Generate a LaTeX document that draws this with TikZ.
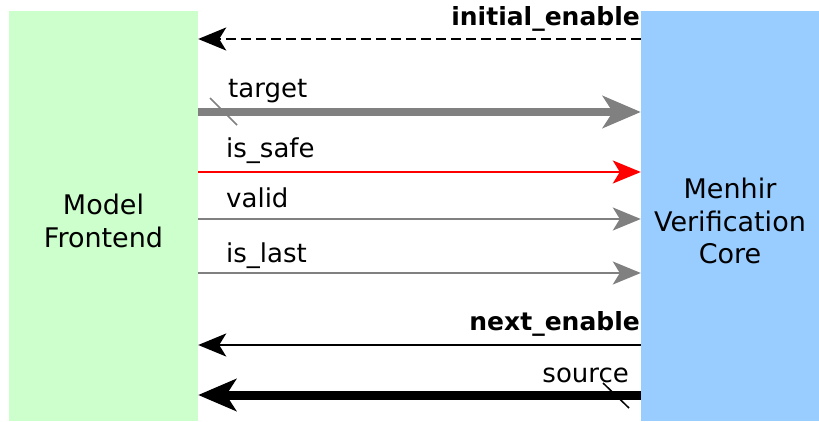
\documentclass[tikz,border=0pt]{standalone}
\usepackage{fontspec}
\setmainfont{DejaVu Sans}
\usetikzlibrary{arrows.meta}
\definecolor{frontgreen}{RGB}{204,255,204}
\definecolor{coreblue}{RGB}{153,204,255}
\definecolor{wiregray}{RGB}{128,128,128}

\begin{document}
\begin{tikzpicture}[x=1pt,y=1pt,
  >={Stealth[length=28pt,width=23pt,inset=7pt]},
  blk/.style={inner sep=0pt, minimum height=410pt},
  blktext/.style={inner sep=0pt, align=center, font=\fontsize{27}{32.5}\selectfont},
  sig/.style={inner sep=0pt, font=\fontsize{26}{30}\selectfont},
  wire/.style={line width=2pt},
  bus/.style={line width=8pt, -{Stealth[length=38pt,width=32pt,inset=10pt]}}]
\useasboundingbox (0,0) rectangle (819,421);

\node(MF)[blk, fill=frontgreen, minimum width=189pt] at (103.5,205) {};
\node(MVC)[blk, fill=coreblue, minimum width=178pt] at (730,205) {};
\node(MFtext)[blktext] at ([yshift=-5pt]MF.center) {Model\\Frontend};
\node(MVCtext)[blktext] at ([yshift=-5pt]MVC.center) {Menhir\\Verification\\Core};

% signal names
\node(IE)[sig, anchor=base east] at (640,395) {\fontsize{25}{30}\selectfont\textbf{initial\_enable}};
\node(TG)[sig, anchor=base west] at (228,323) {target};
\node(SF)[sig, anchor=base west] at (226,263) {is\_safe};
\node(VL)[sig, anchor=base west] at (226,214) {valid};
\node(LS)[sig, anchor=base west] at (226,159) {is\_last};
\node(NE)[sig, anchor=base east] at (640,91) {\fontsize{25}{30}\selectfont\textbf{next\_enable}};
\node(SR)[sig, anchor=base east] at (629,39) {source};

% wires
\draw[wire, ->, dash pattern=on 10pt off 5pt] (MVC.west |- 0,382) -- (MF.east |- 0,382);
\draw[bus, wiregray] (MF.east |- 0,309) -- (MVC.west |- 0,309);
\draw[wire, ->, red] (MF.east |- 0,249) -- (MVC.west |- 0,249);
\draw[wire, ->, wiregray] (MF.east |- 0,202) -- (MVC.west |- 0,202);
\draw[wire, ->, wiregray] (MF.east |- 0,148) -- (MVC.west |- 0,148);
\draw[wire, ->] (MVC.west |- 0,76) -- (MF.east |- 0,76);
\draw[bus, line width=9pt] (MVC.west |- 0,26) -- (MF.east |- 0,26);

% bus slashes
\draw[line width=1.5pt, wiregray] (210,323) -- (237,296);
\draw[line width=1.5pt] (603,38) -- (629,13);
\end{tikzpicture}
\end{document}
